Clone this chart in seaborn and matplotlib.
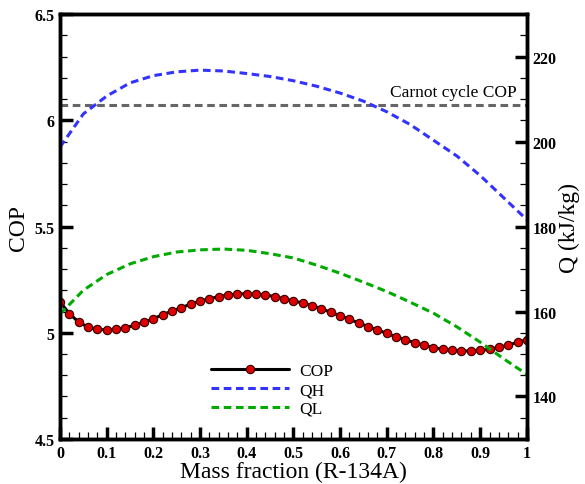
import numpy as np
import pandas as pd
import matplotlib
matplotlib.use("Agg")
import matplotlib.pyplot as plt
import seaborn as sns
from matplotlib.ticker import MultipleLocator, FuncFormatter

# COP curve, 51 points (mass fraction step 0.02)
cop_x = [round(i * 0.02, 2) for i in range(51)]
cop = [5.145, 5.090, 5.050, 5.027, 5.016, 5.013, 5.016, 5.024, 5.035, 5.049,
       5.066, 5.085, 5.102, 5.118, 5.135, 5.149, 5.160, 5.170, 5.178, 5.182,
       5.184, 5.181, 5.178, 5.170, 5.160, 5.150, 5.140, 5.127, 5.113, 5.096,
       5.080, 5.063, 5.046, 5.029, 5.013, 4.997, 4.981, 4.967, 4.953, 4.941,
       4.930, 4.922, 4.917, 4.914, 4.914, 4.917, 4.922, 4.931, 4.942, 4.955,
       4.967]

# heat curves (kJ/kg), step 0.05
q_x = [round(i * 0.05, 2) for i in range(21)]
qh = [198.7, 206.5, 210.7, 213.8, 215.5, 216.4, 216.8, 216.6, 216.0, 215.3,
      214.3, 213.0, 211.4, 209.5, 207.0, 204.0, 200.3, 196.6, 192.0, 186.8,
      181.6]
ql = [159.4, 165.0, 168.7, 171.2, 172.9, 174.0, 174.5, 174.7, 174.4, 173.6,
      172.6, 170.9, 169.0, 166.9, 164.7, 162.2, 159.6, 156.4, 152.8, 148.9,
      145.2]
carnot_cop = 6.072

cop_df = pd.DataFrame({"x": cop_x, "COP": cop})
q_df = pd.DataFrame({"x": q_x, "QH": qh, "QL": ql})

sns.set_style("ticks", {"axes.edgecolor": "black", "xtick.color": "black",
                        "ytick.color": "black", "text.color": "black",
                        "axes.labelcolor": "black"})
plt.rcParams['font.family'] = ['Liberation Serif', 'DejaVu Serif']

fig = plt.figure(figsize=(5.85, 4.85), dpi=100)
ax = fig.add_axes([0.1026, 0.0928, 0.798, 0.8762])
ax2 = ax.twinx()

sns.lineplot(data=cop_df, x="x", y="COP", ax=ax, color="black", linewidth=2.2,
             marker="o", markersize=6, markerfacecolor="#dd0000",
             markeredgecolor="#330000", markeredgewidth=0.8, label="COP", legend=False)
ax.axhline(carnot_cop, color="#666666", linewidth=2.2, dashes=(2.5, 1.5))
ax.text(0.979, carnot_cop + 0.022, "Carnot cycle COP", ha="right", va="bottom", fontsize=12.5)

sns.lineplot(data=q_df, x="x", y="QH", ax=ax2, color="#3333ff", linewidth=2.2,
             label="QH", legend=False)
sns.lineplot(data=q_df, x="x", y="QL", ax=ax2, color="#00aa00", linewidth=2.2,
             label="QL", legend=False)
for ln in ax2.get_lines():
    ln.set_dashes((2.5, 1.5))

ax.set_xlim(0, 1)
ax.set_ylim(4.5, 6.5)
ax2.set_ylim(130, 230)

fmt = FuncFormatter(lambda v, p: "%g" % round(v, 3))
ax.xaxis.set_major_locator(MultipleLocator(0.1))
ax.xaxis.set_minor_locator(MultipleLocator(0.02))
ax.yaxis.set_major_locator(MultipleLocator(0.5))
ax.yaxis.set_minor_locator(MultipleLocator(0.1))
ax2.yaxis.set_major_locator(MultipleLocator(20))
ax2.yaxis.set_minor_locator(MultipleLocator(5))
ax.xaxis.set_major_formatter(fmt)
ax.yaxis.set_major_formatter(fmt)
ax2.yaxis.set_major_formatter(fmt)

for a in (ax, ax2):
    a.tick_params(which="major", direction="in", length=9, width=2.5, labelsize=11.5, pad=4)
    a.tick_params(which="minor", direction="in", length=5, width=0.9)
    for sp in a.spines.values():
        sp.set_linewidth(2.5)
        sp.set_color("black")
        sp.set_visible(True)
    for lab in a.get_xticklabels() + a.get_yticklabels():
        lab.set_fontweight("bold")
ax.tick_params(axis="y", right=False, which="both")
ax.tick_params(axis="x", top=False, which="both")

ax.set_xlabel("Mass fraction (R-134A)", fontsize=17, labelpad=0)
ax.set_ylabel("COP", fontsize=17, labelpad=4)
ax2.set_ylabel("Q (kJ/kg)", fontsize=17, labelpad=2)

h1, l1 = ax.get_legend_handles_labels()
h2, l2 = ax2.get_legend_handles_labels()
ax2.legend(h1 + h2, l1 + l2, loc="center left", bbox_to_anchor=(0.29, 0.115),
           frameon=False, fontsize=12.5, handlelength=4.5, labelspacing=0.15,
           handletextpad=0.6)

plt.savefig("out.png", dpi=100)
